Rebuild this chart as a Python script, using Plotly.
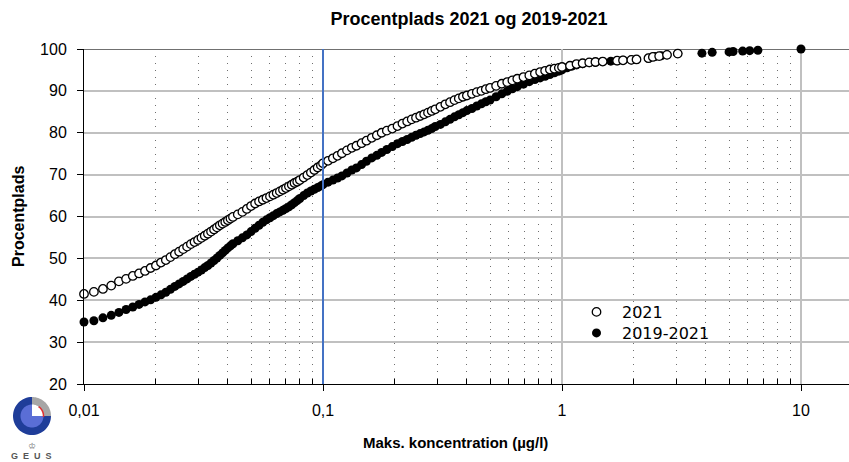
import math
import plotly.graph_objects as go

# ---------------- data ----------------
x_2021 = [0.010, 0.011, 0.012, 0.013, 0.014, 0.015, 0.016, 0.017, 0.018, 0.019,
          0.020, 0.021, 0.022, 0.023, 0.024, 0.025, 0.026, 0.027, 0.028, 0.029,
          0.030, 0.031, 0.032, 0.033, 0.034, 0.035, 0.036, 0.037, 0.038, 0.039,
          0.040, 0.041, 0.042, 0.044, 0.046, 0.048, 0.050, 0.052, 0.054, 0.056,
          0.058, 0.060, 0.062, 0.064, 0.066, 0.068, 0.070, 0.072, 0.074, 0.076,
          0.078, 0.080, 0.083, 0.086, 0.089, 0.092, 0.095, 0.098, 0.100, 0.105,
          0.110, 0.115, 0.120, 0.126, 0.132, 0.138, 0.145, 0.152, 0.160, 0.168,
          0.176, 0.185, 0.195, 0.205, 0.215, 0.225, 0.235, 0.245, 0.255, 0.265,
          0.275, 0.285, 0.295, 0.31, 0.325, 0.34, 0.355, 0.37, 0.385, 0.40,
          0.42, 0.44, 0.46, 0.48, 0.50, 0.53, 0.56, 0.59, 0.62, 0.65,
          0.69, 0.73, 0.77, 0.81, 0.85, 0.89, 0.93, 0.97, 1.00, 1.08,
          1.15, 1.22, 1.30, 1.38, 1.48, 1.70, 1.80, 1.95, 2.05, 2.30,
          2.40, 2.55, 2.75, 3.05]
y_2021 = [41.5, 42.0, 42.7, 43.5, 44.5, 45.1, 45.8, 46.4, 47.0, 47.7,
          48.3, 49.0, 49.6, 50.3, 51.0, 51.6, 52.2, 52.8, 53.4, 53.9,
          54.4, 54.9, 55.4, 55.9, 56.4, 56.9, 57.4, 57.9, 58.3, 58.7,
          59.1, 59.5, 59.9, 60.5, 61.1, 61.8, 62.5, 63.1, 63.6, 64.0,
          64.4, 64.8, 65.2, 65.6, 66.0, 66.4, 66.8, 67.2, 67.6, 68.0,
          68.3, 68.7, 69.3, 69.9, 70.5, 71.1, 71.7, 72.2, 72.7, 73.3,
          73.9, 74.5, 75.1, 75.8, 76.4, 76.9, 77.5, 78.1, 78.8, 79.4,
          80.0, 80.5, 81.0, 81.6, 82.2, 82.7, 83.2, 83.6, 84.0, 84.4,
          84.8, 85.2, 85.6, 86.2, 86.8, 87.3, 87.8, 88.2, 88.6, 88.9,
          89.3, 89.7, 90.0, 90.4, 90.7, 91.2, 91.7, 92.1, 92.5, 92.9,
          93.3, 93.7, 94.1, 94.5, 94.8, 95.1, 95.3, 95.5, 95.7, 96.0,
          96.4, 96.6, 96.8, 96.9, 97.0, 97.2, 97.3, 97.4, 97.5, 97.8,
          98.1, 98.3, 98.6, 98.9]

x_1921 = [0.010, 0.011, 0.012, 0.013, 0.014, 0.015, 0.016, 0.017, 0.018, 0.019,
          0.020, 0.021, 0.022, 0.023, 0.024, 0.025, 0.026, 0.027, 0.028, 0.029,
          0.030, 0.031, 0.032, 0.033, 0.034, 0.035, 0.036, 0.037, 0.038, 0.039,
          0.040, 0.041, 0.042, 0.044, 0.046, 0.048, 0.050, 0.052, 0.054, 0.056,
          0.058, 0.060, 0.062, 0.064, 0.066, 0.068, 0.070, 0.072, 0.074, 0.076,
          0.078, 0.080, 0.083, 0.086, 0.089, 0.092, 0.095, 0.098, 0.100, 0.105,
          0.110, 0.115, 0.120, 0.126, 0.132, 0.138, 0.145, 0.152, 0.160, 0.168,
          0.176, 0.185, 0.195, 0.205, 0.215, 0.225, 0.235, 0.245, 0.255, 0.265,
          0.275, 0.285, 0.295, 0.31, 0.325, 0.34, 0.355, 0.37, 0.385, 0.40,
          0.42, 0.44, 0.46, 0.48, 0.50, 0.53, 0.56, 0.59, 0.62, 0.65,
          0.69, 0.73, 0.77, 0.81, 0.85, 0.89, 0.93, 0.97, 1.00, 1.05,
          1.10, 1.15, 1.22, 1.30, 1.38, 1.48, 1.60, 1.70, 1.80, 1.95,
          2.05, 2.30, 2.45, 2.60, 2.75, 3.05, 3.85, 4.25, 5.00, 5.20,
          5.70, 6.10, 6.60, 10.0]
y_1921 = [34.8, 35.1, 35.8, 36.4, 37.1, 37.8, 38.4, 39.0, 39.6, 40.1,
          40.7, 41.3, 41.9, 42.6, 43.3, 43.9, 44.5, 45.1, 45.7, 46.2,
          46.7, 47.2, 47.8, 48.3, 48.9, 49.5, 50.1, 50.7, 51.3, 51.9,
          52.5, 53.0, 53.5, 54.2, 54.9, 55.6, 56.4, 57.2, 57.9, 58.6,
          59.2, 59.7, 60.2, 60.7, 61.1, 61.5, 61.9, 62.3, 62.8, 63.3,
          63.8, 64.3, 65.0, 65.6, 66.1, 66.5, 66.9, 67.3, 67.6, 68.2,
          68.7, 69.2, 69.7, 70.4, 71.1, 71.6, 72.4, 73.2, 74.0, 74.6,
          75.3, 76.0, 76.7, 77.4, 77.9, 78.4, 78.9, 79.4, 79.8, 80.2,
          80.6, 81.0, 81.5, 82.0, 82.6, 83.2, 83.8, 84.3, 84.8, 85.3,
          85.8, 86.4, 86.9, 87.4, 87.8, 88.6, 89.3, 89.9, 90.5, 91.0,
          91.6, 92.2, 92.7, 93.1, 93.5, 93.9, 94.3, 94.7, 95.0, 95.5,
          95.9, 96.2, 96.5, 96.7, 96.8, 97.0, 97.1, 97.2, 97.3, 97.4,
          97.5, 97.8, 98.2, 98.4, 98.6, 98.9, 99.0, 99.2, 99.3, 99.4,
          99.5, 99.6, 99.7, 100.0]

x_tick_vals = [0.01, 0.1, 1, 10]
x_tick_text = ["0,01", "0,1", "1", "10"]
x_minor_vals = [m * d for d in (0.01, 0.1, 1) for m in range(2, 10)]
y_tick_vals = [20, 30, 40, 50, 60, 70, 80, 90, 100]
series_names = ["2021", "2019-2021"]
marker_line_x = 0.1

# ---------------- layout geometry ----------------
W, H = 849, 462
PL, PR, PT, PB = 84, 849, 49, 384  # plot area in pixels
X_MAX = 10 ** (-2 + (PR - PL) / 239.0)


def pxx(px):
    return (px - PL) / (PR - PL)


def pxy(py):
    return (PB - py) / (PB - PT)


fig = go.Figure()

fig.add_trace(go.Scatter(
    x=x_1921, y=y_1921, mode="markers", name=series_names[1], legend="legend2",
    marker=dict(symbol="circle", size=9, color="black",
                line=dict(width=0)),
    cliponaxis=False,
))
fig.add_trace(go.Scatter(
    x=x_2021, y=y_2021, mode="markers", name=series_names[0], legend="legend",
    marker=dict(symbol="circle", size=8.5, color="white",
                line=dict(width=1.3, color="black")),
    cliponaxis=False,
))

shapes = []
# vertical blue line at 0.1
shapes.append(dict(type="line", xref="x", yref="y", x0=marker_line_x, x1=marker_line_x,
                   y0=20, y1=100, line=dict(color="#4472c4", width=2), layer="above"))
# dark top line at 100
shapes.append(dict(type="line", xref="paper", yref="y", x0=0, x1=1, y0=100, y1=100,
                   line=dict(color="#404040", width=1.5), layer="between"))


# ---------------- GEUS logo ----------------
def poly_path(points):
    return "M " + " L ".join(f"{pxx(x):.5f},{pxy(y):.5f}" for x, y in points) + " Z"


def sector(cx, cy, r, a0, a1, n=24):
    pts = [(cx, cy)]
    for i in range(n + 1):
        a = math.radians(a0 + (a1 - a0) * i / n)
        pts.append((cx + r * math.cos(a), cy - r * math.sin(a)))
    return poly_path(pts)


def arc(cx, cy, r, a0, a1, n=16):
    pts = []
    for i in range(n + 1):
        a = math.radians(a0 + (a1 - a0) * i / n)
        pts.append((cx + r * math.cos(a), cy - r * math.sin(a)))
    return "M " + " L ".join(f"{pxx(x):.5f},{pxy(y):.5f}" for x, y in pts)


cx, cy, R, r = 32, 416, 19, 11.5
shapes.append(dict(type="path", xref="paper", yref="paper", path=sector(cx, cy, R, 90, 360, 48),
                   fillcolor="#1f3d99", line=dict(width=0), layer="above"))
shapes.append(dict(type="path", xref="paper", yref="paper", path=sector(cx, cy, R, 0, 90),
                   fillcolor="#a6a6a6", line=dict(width=0), layer="above"))
shapes.append(dict(type="path", xref="paper", yref="paper", path=sector(cx, cy, r, 90, 360, 48),
                   fillcolor="#5a6ed6", line=dict(width=0), layer="above"))
shapes.append(dict(type="path", xref="paper", yref="paper", path=sector(cx, cy, r, 0, 90),
                   fillcolor="white", line=dict(width=0), layer="above"))
shapes.append(dict(type="path", xref="paper", yref="paper", path=arc(cx, cy, r, -5, 55),
                   line=dict(width=1.5, color="#e03030"), layer="above"))

annotations = [
    dict(text="<b>Maks. koncentration (µg/l)</b>", xref="paper", yref="paper",
         x=pxx(455), y=pxy(442), showarrow=False, xanchor="center", yanchor="middle",
         font=dict(family="Liberation Sans, Arial", size=15, color="black")),
    dict(text="<b>Procentplads</b>", xref="paper", yref="paper",
         x=pxx(18), y=pxy(217), showarrow=False, textangle=-90,
         xanchor="center", yanchor="middle",
         font=dict(family="Liberation Sans, Arial", size=16, color="black")),
    dict(text="♔", xref="paper", yref="paper", x=pxx(32), y=pxy(446),
         showarrow=False, xanchor="center", yanchor="middle",
         font=dict(family="DejaVu Sans", size=9, color="#777777")),
    dict(text="<b>G&nbsp;&nbsp;E&nbsp;&nbsp;U&nbsp;&nbsp;S</b>", xref="paper", yref="paper",
         x=pxx(31), y=pxy(455.5),
         showarrow=False, xanchor="center", yanchor="middle",
         font=dict(family="Liberation Sans, Arial", size=9, color="#555555")),
]

legend_common = dict(xanchor="left", yanchor="middle", bgcolor="rgba(0,0,0,0)",
                     borderwidth=0, itemwidth=41, itemsizing="trace",
                     font=dict(family="Verdana, DejaVu Sans", size=16, color="black"))

fig.update_layout(
    width=W, height=H,
    margin=dict(l=PL, r=W - PR, t=PT, b=H - PB, pad=0),
    paper_bgcolor="white", plot_bgcolor="white",
    title=dict(text="<b>Procentplads 2021 og 2019-2021</b>", x=469 / W, xref="container",
               xanchor="center", y=1 - 19 / H, yref="container", yanchor="middle",
               font=dict(family="Liberation Sans, Arial", size=18, color="black")),
    showlegend=True,
    legend=dict(x=pxx(571), y=pxy(312), **legend_common),
    legend2=dict(x=pxx(571), y=pxy(333), **legend_common),
    shapes=shapes,
    annotations=annotations,
)

fig.update_xaxes(
    type="log", range=[-2, math.log10(X_MAX)],
    tickvals=x_tick_vals, ticktext=x_tick_text,
    ticks="outside", ticklen=6, tickwidth=1, tickcolor="black",
    showline=True, linecolor="black", linewidth=1,
    showgrid=True, gridcolor="#c0c0c0", gridwidth=1.5, zeroline=False,
    ticklabelstandoff=6,
    tickfont=dict(family="Liberation Sans, Arial", size=16, color="black"),
    minor=dict(tickvals=x_minor_vals, ticks="inside", ticklen=5, tickcolor="black",
               tickwidth=1, showgrid=True, gridcolor="#6f6f6f", gridwidth=1,
               griddash="1px,6px"),
)
fig.update_yaxes(
    range=[20, 100], tickvals=y_tick_vals,
    ticks="outside", ticklen=6, tickwidth=1, tickcolor="black",
    showline=True, linecolor="black", linewidth=1,
    showgrid=True, gridcolor="#c0c0c0", gridwidth=1.5, zeroline=False,
    ticklabelstandoff=7,
    tickfont=dict(family="Liberation Sans, Arial", size=16, color="black"),
)

fig.write_html("out.html", config={"displayModeBar": False},
               post_script="document.body.style.margin='0';document.body.style.padding='0';")
